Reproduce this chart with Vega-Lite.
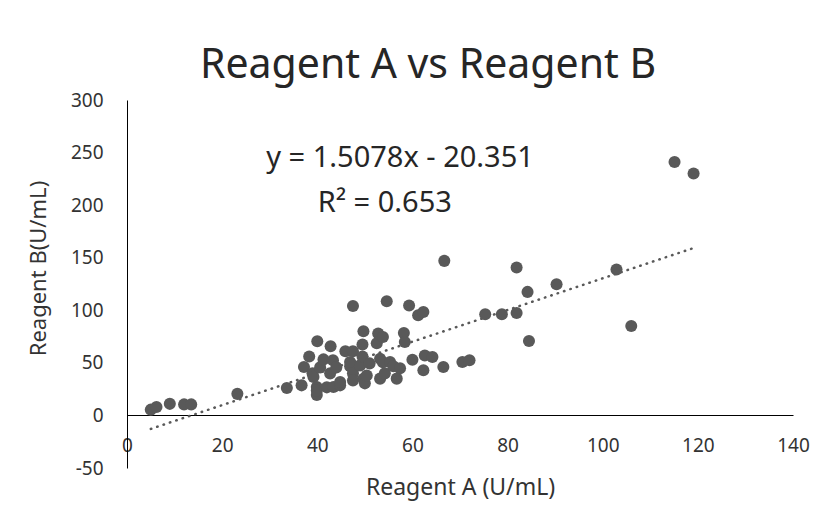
{
  "$schema": "https://vega.github.io/schema/vega-lite/v6.json",
  "width": 666,
  "height": 368,
  "autosize": {"type": "none"},
  "padding": {"left": 127, "top": 100, "right": 40, "bottom": 37},
  "background": "white",
  "config": {"view": {"stroke": null}, "font": "Noto Sans"},
  "title": {"text": "Reagent A vs Reagent B", "fontSize": 41, "fontWeight": "normal", "color": "#262626", "anchor": "middle", "offset": 4, "dx": -32},
  "layer": [
    {
      "data": {"values": [{"a": 5, "b": -12.81}, {"a": 119, "b": 159.08}]},
      "mark": {"type": "line", "color": "#595959", "strokeWidth": 2.5, "strokeDash": [0.5, 6.2], "strokeCap": "round"},
      "encoding": {
        "x": {"field": "a", "type": "quantitative", "scale": {"domain": [0, 140], "nice": false, "zero": false},
          "axis": {"title": "Reagent A (U/mL)", "values": [0, 20, 40, 60, 80, 100, 120, 140], "offset": -53, "domainColor": "#000000", "ticks": false, "grid": false, "labelPadding": 21, "labelFontSize": 19, "labelColor": "#333333", "labelFlush": false, "labelOverlap": false, "titleFontSize": 23, "titleFontWeight": "normal", "titleColor": "#333333", "titlePadding": 21}},
        "y": {"field": "b", "type": "quantitative", "scale": {"domain": [-50, 300], "nice": false, "zero": false},
          "axis": {"title": "Reagent B(U/mL)", "values": [-50, 0, 50, 100, 150, 200, 250, 300], "labelExpr": "'' + datum.value", "domainColor": "#000000", "ticks": false, "grid": false, "labelPadding": 24, "labelFontSize": 19, "labelColor": "#333333", "labelFlush": false, "labelOverlap": false, "titleFontSize": 22, "titleFontWeight": "normal", "titleColor": "#333333", "titleX": -89, "titleY": 168, "titleBaseline": "middle", "titleAlign": "center"}}
      }
    },
    {
      "data": {"values": [
        {"a": 5, "b": 5.5}, {"a": 6.2, "b": 8}, {"a": 9, "b": 11}, {"a": 12, "b": 10.5}, {"a": 13.5, "b": 10.5},
        {"a": 23.2, "b": 20.5}, {"a": 33.6, "b": 26},
        {"a": 36.7, "b": 28.6}, {"a": 37.2, "b": 46}, {"a": 38.3, "b": 56}, {"a": 39, "b": 40}, {"a": 39.2, "b": 36.5},
        {"a": 39.9, "b": 27}, {"a": 39.9, "b": 19.5}, {"a": 39.9, "b": 23.8}, {"a": 40, "b": 70.5}, {"a": 40.6, "b": 45.7},
        {"a": 41.3, "b": 53.3}, {"a": 42, "b": 26.7}, {"a": 42.7, "b": 40}, {"a": 42.8, "b": 65.7}, {"a": 43.3, "b": 52.4},
        {"a": 43.4, "b": 27}, {"a": 44, "b": 45.7}, {"a": 44.8, "b": 28.6}, {"a": 44.8, "b": 31.7}, {"a": 45.9, "b": 61},
        {"a": 46.9, "b": 46.7}, {"a": 46.9, "b": 50.8}, {"a": 47.5, "b": 104}, {"a": 47.5, "b": 61}, {"a": 47.5, "b": 40},
        {"a": 47.5, "b": 33.3}, {"a": 49, "b": 47.6}, {"a": 49.7, "b": 80}, {"a": 49.5, "b": 67.5}, {"a": 49.5, "b": 56},
        {"a": 49.7, "b": 34.9}, {"a": 50, "b": 30.5}, {"a": 50.4, "b": 38}, {"a": 51, "b": 49.5},
        {"a": 52.5, "b": 68.6}, {"a": 52.8, "b": 78}, {"a": 53.8, "b": 74.6}, {"a": 53.2, "b": 54}, {"a": 53.2, "b": 35},
        {"a": 53.8, "b": 50.5}, {"a": 54.2, "b": 40}, {"a": 54.6, "b": 108.6}, {"a": 55.3, "b": 50.8}, {"a": 56, "b": 46.7},
        {"a": 56.7, "b": 35}, {"a": 57.4, "b": 44.8}, {"a": 58.2, "b": 78.4}, {"a": 58.4, "b": 69.8}, {"a": 59.3, "b": 104.5},
        {"a": 60, "b": 53}, {"a": 61.2, "b": 95.2}, {"a": 62.3, "b": 98.4}, {"a": 62.6, "b": 57}, {"a": 62.3, "b": 43},
        {"a": 64.2, "b": 55.5}, {"a": 66.5, "b": 46}, {"a": 66.7, "b": 147}, {"a": 70.5, "b": 50.8}, {"a": 72, "b": 52.4},
        {"a": 75.3, "b": 96.2}, {"a": 78.8, "b": 96.2}, {"a": 81.9, "b": 97.4}, {"a": 81.9, "b": 140.6}, {"a": 84.2, "b": 117.5},
        {"a": 84.5, "b": 70.8}, {"a": 90.3, "b": 124.8}, {"a": 102.9, "b": 138.7}, {"a": 106, "b": 85},
        {"a": 115.1, "b": 241}, {"a": 119.1, "b": 230}
      ]},
      "mark": {"type": "circle", "color": "#595959", "opacity": 1, "size": 145},
      "encoding": {
        "x": {"field": "a", "type": "quantitative"},
        "y": {"field": "b", "type": "quantitative"}
      }
    },
    {
      "data": {"values": [{"a": 57.4, "b": 245, "label": "y = 1.5078x - 20.351"}, {"a": 54.2, "b": 202, "label": "R² = 0.653"}]},
      "mark": {"type": "text", "fontSize": 29, "color": "#262626", "align": "center", "baseline": "middle"},
      "encoding": {
        "x": {"field": "a", "type": "quantitative"},
        "y": {"field": "b", "type": "quantitative"},
        "text": {"field": "label"}
      }
    }
  ]
}
